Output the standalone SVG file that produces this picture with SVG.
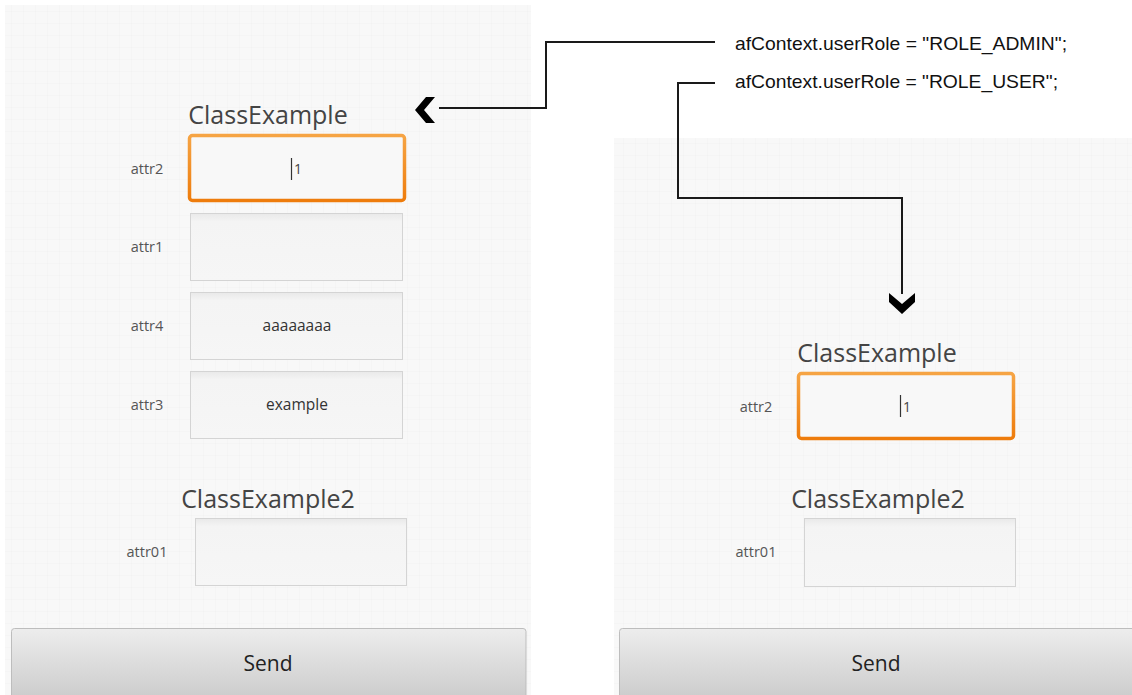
<svg xmlns="http://www.w3.org/2000/svg" width="1132" height="695" viewBox="0 0 1132 695">
  <style>
    .panel { fill: url(#grid); }
    .field { fill: url(#fieldFill); stroke: #d4d4d4; stroke-width: 1; }
    .focus { fill: #f8f8f8; stroke: url(#orange); stroke-width: 3.5; }
    .title { font-family: "Open Sans", "Noto Sans", sans-serif; font-size: 25px; fill: #444; text-anchor: middle; }
    .label { font-family: "Open Sans", "Noto Sans", sans-serif; font-size: 14.5px; fill: #555; text-anchor: middle; }
    .value { font-family: "Open Sans", "Noto Sans", sans-serif; font-size: 15.5px; fill: #333; text-anchor: middle; }
    .digit { font-family: "Open Sans", "Noto Sans", sans-serif; font-size: 14px; fill: #444; }
    .caret { stroke: #333; stroke-width: 1.2; }
    .btn { fill: url(#btnFill); stroke: #bdbdbd; stroke-width: 1; }
    .btntext { font-family: "Open Sans", "Noto Sans", sans-serif; font-size: 21px; fill: #222; text-anchor: middle; }
    .code { font-family: "Liberation Sans", Arial, sans-serif; font-size: 18.5px; fill: #111; }
    .wire { fill: none; stroke: #1a1a1a; stroke-width: 2; }
    .head { fill: #000; }
  </style>
  <defs>
    <pattern id="grid" width="12" height="12" patternUnits="userSpaceOnUse">
      <rect width="12" height="12" fill="#f8f8f8"/>
      <path d="M12 0V12M0 12H12" stroke="#000" stroke-opacity="0.02" stroke-width="1" fill="none"/>
    </pattern>
    <linearGradient id="fieldFill" x1="0" y1="0" x2="0" y2="1">
      <stop offset="0" stop-color="#e9e9e9"/>
      <stop offset="0.12" stop-color="#f4f4f4"/>
      <stop offset="1" stop-color="#f6f6f6"/>
    </linearGradient>
    <linearGradient id="orange" x1="0" y1="0" x2="0" y2="1">
      <stop offset="0" stop-color="#f6a444"/>
      <stop offset="1" stop-color="#ee7c0c"/>
    </linearGradient>
    <linearGradient id="btnFill" x1="0" y1="0" x2="0" y2="1">
      <stop offset="0" stop-color="#ededed"/>
      <stop offset="1" stop-color="#cbcbcb"/>
    </linearGradient>
  </defs>

  <rect width="1132" height="695" fill="#ffffff"/>

  <!-- form with every attribute -->
  <g id="form-admin">
    <rect class="panel" x="5" y="5" width="526" height="690"/>
    <g id="admin-class1">
      <text class="title" x="268" y="124">ClassExample</text>
      <g id="admin-attr2">
        <text class="label" x="147" y="174">attr2</text>
        <rect class="focus" x="189.5" y="135.5" width="215" height="65" rx="3"/>
        <line class="caret" x1="291.5" y1="158" x2="291.5" y2="180"/>
        <text class="digit" x="294" y="174">1</text>
      </g>
      <g id="admin-attr1">
        <text class="label" x="147" y="252">attr1</text>
        <rect class="field" x="190.5" y="213.5" width="212" height="67"/>
      </g>
      <g id="admin-attr4">
        <text class="label" x="147" y="331">attr4</text>
        <rect class="field" x="190.5" y="292.5" width="212" height="67"/>
        <text class="value" x="297" y="331">aaaaaaaa</text>
      </g>
      <g id="admin-attr3">
        <text class="label" x="147" y="410">attr3</text>
        <rect class="field" x="190.5" y="371.5" width="212" height="67"/>
        <text class="value" x="297" y="410">example</text>
      </g>
    </g>
    <g id="admin-class2">
      <text class="title" x="268" y="508">ClassExample2</text>
      <g id="admin-attr01">
        <text class="label" x="147" y="557">attr01</text>
        <rect class="field" x="195.5" y="518.5" width="211" height="67"/>
      </g>
    </g>
    <g id="admin-send">
      <path class="btn" d="M11.5 700V631.5a3 3 0 0 1 3-3H523a3 3 0 0 1 3 3V700Z"/>
      <text class="btntext" x="268" y="671">Send</text>
    </g>
  </g>

  <!-- form with the restricted attribute set -->
  <g id="form-user">
    <rect class="panel" x="614" y="138" width="518" height="557"/>
    <g id="user-class1">
      <text class="title" x="877" y="362">ClassExample</text>
      <g id="user-attr2">
        <text class="label" x="756" y="412">attr2</text>
        <rect class="focus" x="798.5" y="373.5" width="215" height="65" rx="3"/>
        <line class="caret" x1="900.5" y1="395" x2="900.5" y2="417"/>
        <text class="digit" x="903" y="412">1</text>
      </g>
    </g>
    <g id="user-class2">
      <text class="title" x="878" y="508">ClassExample2</text>
      <g id="user-attr01">
        <text class="label" x="756" y="557">attr01</text>
        <rect class="field" x="804.5" y="518.5" width="211" height="68"/>
      </g>
    </g>
    <g id="user-send">
      <path class="btn" d="M619.5 700V631.5a3 3 0 0 1 3-3H1140V700Z"/>
      <text class="btntext" x="876" y="671">Send</text>
    </g>
  </g>

  <!-- role statements -->
  <g id="role-admin">
    <text class="code" x="735" y="50" textLength="332" lengthAdjust="spacingAndGlyphs">afContext.userRole = "ROLE_ADMIN";</text>
  </g>
  <g id="role-user">
    <text class="code" x="735" y="88" textLength="323" lengthAdjust="spacingAndGlyphs">afContext.userRole = "ROLE_USER";</text>
  </g>

  <!-- connectors -->
  <g id="connectors">
    <polyline class="wire" points="715,42 546,42 546,108 439,108"/>
    <polygon class="head" points="435,97 424,110 435,123 426,123 415,110 426,97"/>
    <polyline class="wire" points="715,83 678,83 678,198 902,198 902,294"/>
    <polygon class="head" points="889,293 902,304 915,293 915,302 902,314 889,302"/>
  </g>
</svg>
